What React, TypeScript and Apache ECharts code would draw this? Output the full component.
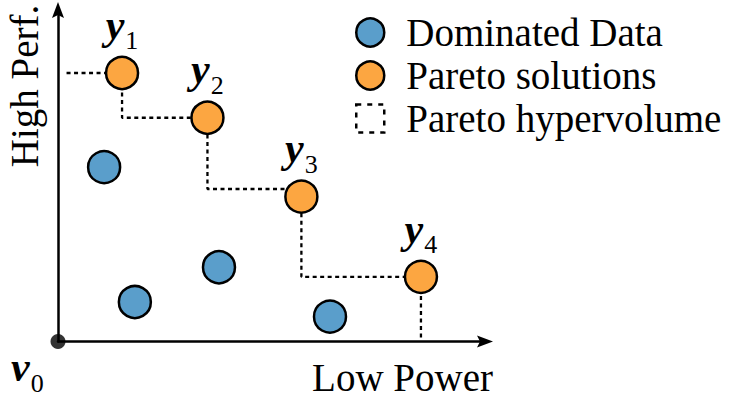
import React, { useEffect, useRef } from "react";
import * as echarts from "echarts";

// Pareto-optimal solutions (power axis → x, performance axis → y)
const paretoX = [1.5, 3.5, 5.7, 8.5];
const paretoY = [8.1, 6.75, 4.37, 1.95];
const paretoTags = ["1", "2", "3", "4"];

// Dominated configurations
const dominatedX = [1.08, 1.8, 3.77, 6.37];
const dominatedY = [5.26, 1.19, 2.24, 0.75];

// Staircase outlining the hypervolume dominated by the Pareto set
const hvStepX = [0.2, 1.5, 1.5, 3.5, 3.5, 5.7, 5.7, 8.5, 8.5];
const hvStepY = [8.1, 8.1, 6.75, 6.75, 4.6, 4.6, 1.95, 1.95, 0];

// Reference point
const originX = [0];
const originY = [0];

const legendNames = ["Dominated Data", "Pareto solutions", "Pareto hypervolume"];

const SERIF = "Liberation Serif";
const BLUE = "#5a9ecb";
const ORANGE = "#fca641";
const ARROW = "path://M6,0 L12,16 L6,13 L0,16 Z";

// bold-italic symbol with a lowered numeric subscript
const subRich = {
  v: {
    fontFamily: SERIF,
    fontStyle: "italic",
    fontWeight: "bold",
    fontSize: 42,
    lineHeight: 42,
    color: "#000",
    verticalAlign: "top",
  },
  s: {
    fontFamily: SERIF,
    fontSize: 26,
    lineHeight: 26,
    color: "#000",
    verticalAlign: "top",
    padding: [24, 0, 0, 1],
  },
};

export default function App() {
  const ref = useRef<HTMLDivElement | null>(null);

  useEffect(() => {
    if (!ref.current) return;
    const chart = echarts.init(ref.current, undefined, { renderer: "svg" });

    const axisLine = {
      show: true,
      onZero: false,
      symbol: ["none", ARROW],
      symbolSize: [12, 16],
      lineStyle: { color: "#000", width: 2.5 },
    };

    chart.setOption({
      animation: false,
      backgroundColor: "#fff",
      textStyle: { fontFamily: SERIF },
      grid: {
        left: 58,
        right: 245,
        top: 10,
        bottom: 57.5,
        outerBoundsMode: "none",
      },
      xAxis: {
        type: "value",
        min: 0,
        max: 10,
        axisLine,
        axisTick: { show: false },
        axisLabel: { show: false },
        splitLine: { show: false },
      },
      yAxis: {
        type: "value",
        min: 0,
        max: 10,
        axisLine,
        axisTick: { show: false },
        axisLabel: { show: false },
        splitLine: { show: false },
      },
      legend: {
        orient: "vertical",
        left: 350,
        top: 7,
        itemWidth: 62,
        itemHeight: 28,
        itemGap: 2,
        selectedMode: false,
        textStyle: { fontFamily: SERIF, fontSize: 39, lineHeight: 41, color: "#000" },
        data: [
          {
            name: legendNames[0],
            icon: "circle",
            itemStyle: { color: BLUE, borderColor: "#000", borderWidth: 2.5 },
          },
          {
            name: legendNames[1],
            icon: "circle",
            itemStyle: { color: ORANGE, borderColor: "#000", borderWidth: 2.5 },
          },
          {
            name: legendNames[2],
            icon: "path://M0,0L10,0L10,10L0,10Z",
            itemStyle: {
              color: "rgba(0,0,0,0)",
              borderColor: "#000",
              borderWidth: 2.5,
              borderType: [5, 6],
            },
          },
        ],
      },
      graphic: [
        {
          type: "text",
          x: 493,
          y: 377,
          style: {
            text: "Low Power",
            fontFamily: SERIF,
            fontSize: 39,
            fill: "#000",
            textAlign: "right",
            textVerticalAlign: "middle",
          },
        },
        {
          type: "text",
          x: 24,
          y: 86,
          rotation: Math.PI / 2,
          style: {
            text: "High Perf.",
            fontFamily: SERIF,
            fontSize: 39,
            fill: "#000",
            textAlign: "center",
            textVerticalAlign: "middle",
          },
        },
        {
          type: "text",
          x: 11,
          y: 346,
          style: {
            text: "{v|v}{s|0}",
            rich: subRich,
          },
        },
      ],
      series: [
        {
          name: legendNames[2],
          type: "line",
          data: hvStepX.map((x, i) => [x, hvStepY[i]]),
          symbol: "none",
          silent: true,
          clip: false,
          z: 1,
          lineStyle: { color: "#000", width: 2.3, type: [4, 3.5] },
        },
        {
          name: legendNames[0],
          type: "scatter",
          data: dominatedX.map((x, i) => [x, dominatedY[i]]),
          symbolSize: 32,
          clip: false,
          z: 2,
          itemStyle: { color: BLUE, borderColor: "#000", borderWidth: 2.5, opacity: 1 },
        },
        {
          name: legendNames[1],
          type: "scatter",
          data: paretoX.map((x, i) => [x, paretoY[i]]),
          symbolSize: 32,
          clip: false,
          z: 2,
          itemStyle: { color: ORANGE, borderColor: "#000", borderWidth: 2.5, opacity: 1 },
          label: {
            show: true,
            position: "top",
            distance: 10,
            formatter: (p: any) => `{v|y}{s|${paretoTags[p.dataIndex]}}`,
            rich: subRich,
          },
        },
        {
          name: "origin",
          type: "scatter",
          data: originX.map((x, i) => [x, originY[i]]),
          symbolSize: 15,
          clip: false,
          silent: true,
          z: 3,
          itemStyle: { color: "#000" },
        },
      ],
    });

    return () => chart.dispose();
  }, []);

  return (
    <div
      ref={ref}
      style={{ position: "fixed", left: 0, top: 0, width: 730, height: 399, background: "#fff" }}
    />
  );
}
